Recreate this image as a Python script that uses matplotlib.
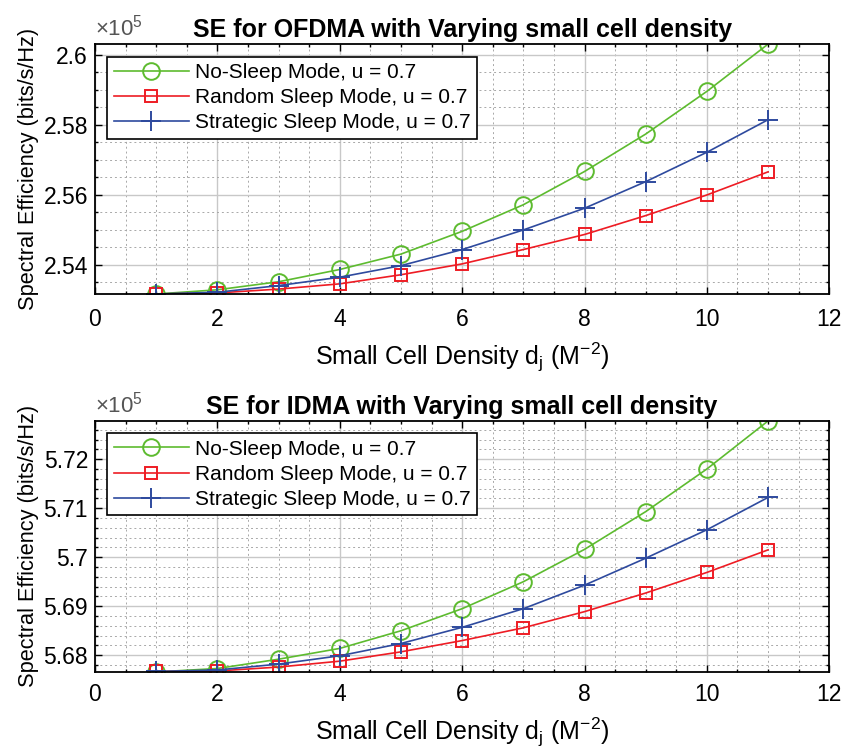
import numpy as np
import matplotlib.pyplot as plt
from matplotlib.ticker import MultipleLocator, FuncFormatter

plt.rcParams['font.family'] = ['Liberation Sans', 'DejaVu Sans']
plt.rcParams['mathtext.fontset'] = 'custom'
plt.rcParams['mathtext.rm'] = 'Liberation Sans'
plt.rcParams['mathtext.it'] = 'Liberation Sans'

# densidad de small cells
densidad = [1, 2, 3, 4, 5, 6, 7, 8, 9, 10, 11]

# SE OFDMA (x 1e5 bits/s/Hz)
ofdma_no_sleep = [2.5316, 2.5328, 2.5351, 2.5386, 2.5430, 2.5495, 2.5571, 2.5666, 2.5773, 2.5895, 2.6030]
ofdma_random = [2.5316, 2.5319, 2.5330, 2.5345, 2.5371, 2.5402, 2.5443, 2.5486, 2.5540, 2.5599, 2.5665]
ofdma_strategic = [2.5316, 2.5321, 2.5340, 2.5364, 2.5397, 2.5443, 2.5499, 2.5561, 2.5637, 2.5721, 2.5814]

# SE IDMA (x 1e5 bits/s/Hz)
idma_no_sleep = [5.6766, 5.6773, 5.6792, 5.6814, 5.6850, 5.6895, 5.6950, 5.7016, 5.7093, 5.7180, 5.7278]
idma_random = [5.6767, 5.6768, 5.6776, 5.6788, 5.6807, 5.6830, 5.6856, 5.6889, 5.6927, 5.6969, 5.7015]
idma_strategic = [5.6767, 5.6770, 5.6782, 5.6799, 5.6824, 5.6857, 5.6895, 5.6943, 5.6998, 5.7056, 5.7122]

etiquetas = ['No-Sleep Mode, u = 0.7', 'Random Sleep Mode, u = 0.7', 'Strategic Sleep Mode, u = 0.7']
titulos = ['SE for OFDMA with Varying small cell density', 'SE for IDMA with Varying small cell density']

verde = '#5dbb2f'
rojo = '#ee1c24'
azul = '#2e4a9e'

fig = plt.figure(figsize=(8.45, 7.55), dpi=100)
ax1 = fig.add_axes([0.1124, 0.6106, 0.869, 0.331])
ax2 = fig.add_axes([0.1124, 0.110, 0.869, 0.3325])


def graficar(ax, no_sleep, random, strategic, titulo, major, minor, pad_x):
    ax.plot(densidad, no_sleep, '-o', color=verde, lw=1.2, ms=12, mfc='none', mew=1.4, label=etiquetas[0])
    ax.plot(densidad, random, '-s', color=rojo, lw=1.2, ms=9, mfc='none', mew=1.4, label=etiquetas[1])
    ax.plot(densidad, strategic, '-+', color=azul, lw=1.2, ms=14, mew=1.4, label=etiquetas[2])
    todos = no_sleep + random + strategic
    ax.set_ylim(min(todos), max(todos))
    ax.set_xlim(0, 12)
    ax.xaxis.set_major_locator(MultipleLocator(2))
    ax.xaxis.set_minor_locator(MultipleLocator(0.5))
    ax.yaxis.set_major_locator(MultipleLocator(major))
    ax.yaxis.set_minor_locator(MultipleLocator(minor))
    ax.yaxis.set_major_formatter(FuncFormatter(lambda v, p: f'{round(v, 4):g}'))
    ax.grid(which='major', color='#c8c8c8', lw=1.0, ls='-')
    ax.grid(which='minor', color='#a8a8a8', lw=0.7, ls=(0, (2, 3)))
    ax.set_axisbelow(True)
    ax.tick_params(which='both', direction='in', top=True, right=True, labelsize=16.5, width=1.0)
    ax.tick_params(which='major', length=5)
    ax.tick_params(which='minor', length=2.5)
    ax.tick_params(axis='x', pad=pad_x)
    ax.tick_params(axis='y', pad=5)
    for s in ax.spines.values():
        s.set_linewidth(1.3)
    ax.set_title(titulo, fontsize=18, fontweight='bold', pad=5)
    ax.set_xlabel('Small Cell Density d$_\\mathregular{j}$ (M$^\\mathregular{-2}$)', fontsize=18, labelpad=7)
    ax.set_ylabel('Spectral Efficiency (bits/s/Hz)', fontsize=15.7, labelpad=3)
    ax.text(0.0, 1.015, '$\\times$10$^5$', transform=ax.transAxes, fontsize=16, color='#555555',
            ha='left', va='bottom')
    leg = ax.legend(loc='upper left', fontsize=15, handlelength=3.6, borderaxespad=0.6,
                    fancybox=False, framealpha=1, edgecolor='black', labelspacing=0.3,
                    borderpad=0.3, handletextpad=0.3)
    leg.get_frame().set_linewidth(1.2)


graficar(ax1, ofdma_no_sleep, ofdma_random, ofdma_strategic, titulos[0], 0.02, 0.005, 10)
graficar(ax2, idma_no_sleep, idma_random, idma_strategic, titulos[1], 0.01, 0.002, 8)

fig.savefig('out.png', dpi=100)
